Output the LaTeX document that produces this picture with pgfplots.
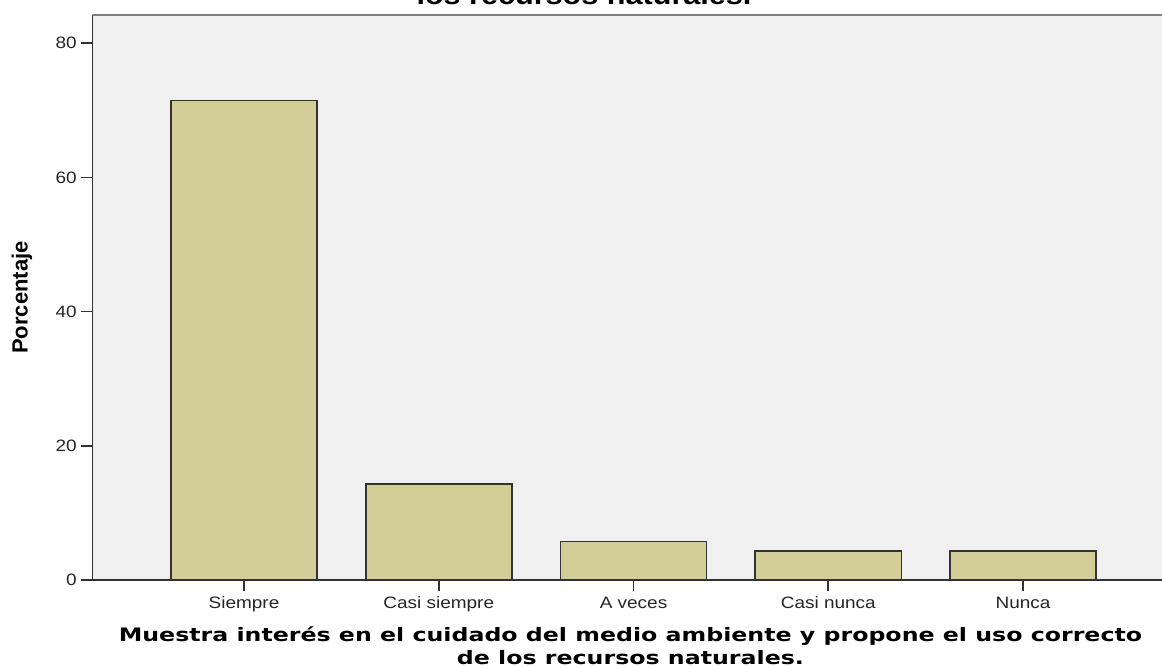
\documentclass[border=0pt]{standalone}
\usepackage{fontspec}
\setmainfont{Liberation Sans}
\newfontfamily\tickfont[FakeStretch=1.15]{Liberation Sans}
\newfontfamily\labfont[FakeStretch=1.28]{DejaVu Sans}
\newfontfamily\titfont[FakeStretch=1.15]{Liberation Sans}
\usepackage{pgfplots}
\pgfplotsset{compat=1.18}
\definecolor{bgcol}{RGB}{240,240,240}
\definecolor{barcol}{RGB}{211,206,151}
\definecolor{edgecol}{RGB}{50,50,50}

\begin{document}
\begin{tikzpicture}
\begin{axis}[
    name=ax, at={(0,0)}, anchor=south west,
    scale only axis, width=536.25pt, height=282.5pt,
    ybar, bar width=0.75,
    xmin=-0.778, xmax=4.729, ymin=0, ymax=84.2,
    axis background/.style={fill=bgcol},
    axis x line*=bottom, axis y line*=left,
    axis line style={draw=edgecol, line width=0.75pt, -},
    tick align=outside, major tick length=5.5pt,
    tick style={draw=edgecol, line width=0.8pt},
    xtick={0,1,2,3,4},
    xticklabels={Siempre, Casi siempre, A veces, Casi nunca, Nunca},
    ytick={0,20,40,60,80},
    /pgf/number format/assume math mode=true,
    tick label style={font=\tickfont\fontsize{8.25}{10}\selectfont, text=black!85},
    yticklabel style={inner sep=2.2pt},
    xticklabel style={inner sep=1.5pt, yshift=-1.2pt},
    ylabel={Porcentaje},
    ylabel style={at={(axis description cs:-0.0657,0.5)}, anchor=center,
        font=\bfseries\fontsize{11}{13}\selectfont},
    xlabel={Muestra interés en el cuidado del medio ambiente y propone el uso correcto\\de los recursos naturales.},
    xlabel style={at={(axis description cs:0.5016,0)}, anchor=base, yshift=-42.5pt,
        align=center, font=\labfont\bfseries\fontsize{9.25}{11.5}\selectfont},
]
\addplot[fill=barcol, draw=edgecol, line width=0.8pt]
    coordinates {(0,71.43) (1,14.29) (2,5.71) (3,4.29) (4,4.29)};
\draw[draw=gray, line width=1pt] (rel axis cs:0,1) -- (rel axis cs:1,1);
\end{axis}
\node[anchor=base, font=\titfont\bfseries\fontsize{13.3}{16}\selectfont]
    at (245.75pt,287.5pt) {los recursos naturales.};
\pgfresetboundingbox
\path[use as bounding box] (-46.25pt,-43.5pt) rectangle (534.75pt,290pt);
\end{tikzpicture}
\end{document}
